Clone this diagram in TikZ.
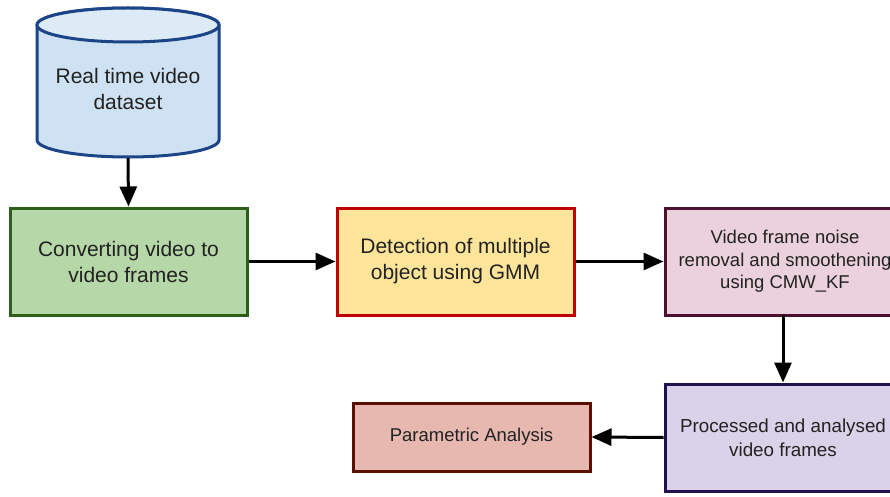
\documentclass[tikz,border=0pt]{standalone}
\usepackage{fontspec}
\setmainfont{Liberation Sans}
\usetikzlibrary{arrows.meta}
\definecolor{dbfill}{HTML}{CFE2F3}\definecolor{dbline}{HTML}{1C4587}
\definecolor{gfill}{HTML}{B6D7A8}\definecolor{gline}{HTML}{2D5F1A}
\definecolor{yfill}{HTML}{FFE599}\definecolor{yline}{HTML}{C00000}
\definecolor{pfill}{HTML}{EAD1DC}\definecolor{pline}{HTML}{4C1130}
\definecolor{vfill}{HTML}{D9D2E9}\definecolor{vline}{HTML}{20124D}
\definecolor{rfill}{HTML}{E6B8AF}\definecolor{rline}{HTML}{5B0F00}
\definecolor{txt}{HTML}{222222}
\tikzset{
  procbox/.style={draw, line width=3pt, rectangle, align=center, text=txt, inner sep=0pt},
  arr/.style={line width=3pt, -{Triangle[length=20pt,width=17pt]}},
  big/.style={font=\fontsize{21}{26}\selectfont},
  mid/.style={font=\fontsize{18.8}{24}\selectfont},
  small/.style={font=\fontsize{18.5}{22.5}\selectfont},
}
\begin{document}
\begin{tikzpicture}[x=1pt,y=-1pt]
\useasboundingbox (0,0) rectangle (890,497);
\clip (0,0) rectangle (890,497);
% cylinder
\draw[line width=3pt, draw=dbline, fill=dbfill] (37,25) -- (37,140) arc[start angle=180, end angle=0, x radius=91, y radius=17] -- (219,25) arc[start angle=0, end angle=-180, x radius=91, y radius=17] -- cycle;
\draw[line width=3pt, draw=dbline, fill=dbfill!70!white] (128,25) ellipse[x radius=91, y radius=17];
\node[minimum width=182pt, minimum height=150pt, inner sep=0pt] (db) at (128,83) {};
\node[big, align=center, text=txt] at (128,89) {Real time video\\dataset};
% boxes
\node[procbox, big, draw=gline, fill=gfill, minimum width=237pt, minimum height=107pt] (conv) at (128.5,261.5) {Converting video to\\video frames};
\node[procbox, big, draw=yline, fill=yfill, minimum width=237pt, minimum height=107pt] (det) at (455.5,261.5) {Detection of multiple\\object using GMM};
\node[procbox, small, draw=pline, fill=pfill, minimum width=240pt, minimum height=107pt] (noise) at (785,261.5) {Video frame noise\\removal and smoothening\\using CMW\_KF};
\node[procbox, mid, draw=vline, fill=vfill, minimum width=236pt, minimum height=107pt] (proc) at (783,437.5) {Processed and analysed\\video frames};
\node[procbox, small, draw=rline, fill=rfill, minimum width=237pt, minimum height=68pt] (param) at (471.5,437) {Parametric Analysis};
% arrows
\draw[arr] (db.south) -- (conv.north);
\draw[arr] (conv.east) -- (det.west);
\draw[arr] (det.east) -- (noise.west);
\coordinate (nb) at (783,315);
\draw[arr] (nb) -- (proc.north);
\draw[arr] (proc.west) -- (param.east);
\end{tikzpicture}
\end{document}
